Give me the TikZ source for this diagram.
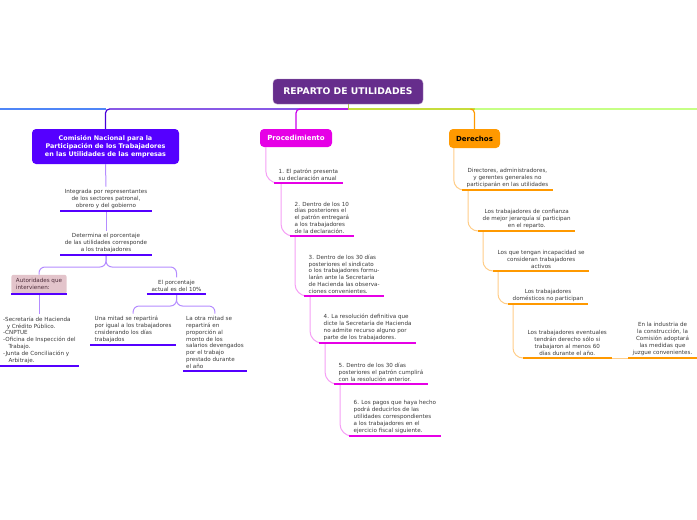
\documentclass[tikz,border=0pt]{standalone}
\usepackage{fontspec}
\setmainfont{DejaVu Sans}
\usepackage{tikz}
\usetikzlibrary{
  arrows.meta,
  positioning,
  calc,
}
\definecolor{rootpurple}{HTML}{662D8C}
\definecolor{comviolet}{HTML}{5500FF}
\definecolor{comlight}{HTML}{B48CFF}
\definecolor{westblue}{HTML}{4F86F7}
\definecolor{procmag}{HTML}{E600E6}
\definecolor{proclight}{HTML}{F5A0F5}
\definecolor{derorange}{HTML}{FF9900}
\definecolor{derlight}{HTML}{FFCD88}
\definecolor{hubolive}{HTML}{C6DD3C}
\definecolor{eastgreen}{HTML}{C5FF85}
\definecolor{autpink}{HTML}{E3C4CB}
\definecolor{autdark}{HTML}{4D2C3A}
\definecolor{leafgray}{HTML}{3A3A3A}

\tikzset{
  rootbox/.style={fill=rootpurple, draw=rootpurple!55, rounded corners=4pt,
    text=white, font=\bfseries\fontsize{9.2}{11}\selectfont,
    minimum width=150pt, minimum height=25pt},
  topic/.style={rounded corners=4pt, font=\bfseries\fontsize{7}{8}\selectfont},
  leaf/.style={font=\fontsize{5.6}{6.8}\selectfont, text=leafgray,
    inner xsep=4.5pt, inner ysep=2.5pt},
  cline/.style={comviolet, line width=2.5pt},
  pline/.style={procmag, line width=2.5pt},
  dline/.style={derorange, line width=2.5pt},
  cconn/.style={comlight, line width=1pt, rounded corners=6pt},
  pconn/.style={proclight, line width=1pt, rounded corners=12pt},
  dconn/.style={derlight, line width=1pt, rounded corners=10pt},
}

\begin{document}
\begin{tikzpicture}[x=1pt, y=-1pt]
  \useasboundingbox (0,0) rectangle (697,520);

  % root and main branches
  \node[rootbox] (root) at (348,91.5) {REPARTO DE UTILIDADES};
  \coordinate (hub) at (348,109);
  \coordinate (westend) at (0,109);
  \coordinate (eastend) at (697,109);

  \node[topic, fill=comviolet, text=white, align=center,
        minimum width=147pt, minimum height=35pt, font=\bfseries\fontsize{6.4}{8}\selectfont]
    (cnpt) at (105.5,146.5)
    {Comisión Nacional para la\\Participación de los Trabajadores\\en las Utilidades de las empresas};
  \node[topic, fill=procmag, text=white, minimum width=72pt, minimum height=18pt]
    (proc) at (296,138) {Procedimiento};
  \node[topic, fill=derorange, text=black, minimum width=51pt, minimum height=19pt]
    (der) at (474.5,138.5) {Derechos};

  \draw[westblue, line width=1.2pt] (cnpt.north |- hub) -- (westend);
  \draw[hubolive, line width=1.2pt] (der.north |- hub) -- (hub);
  \draw[eastgreen, line width=1.2pt] (der.north |- hub) -- (eastend);
  \draw[comviolet!85!black, line width=1.2pt, rounded corners=4pt] (hub) -| (cnpt.north);
  \draw[procmag!80!comviolet, line width=1.2pt, rounded corners=4pt] (hub) -| (proc.north);
  \draw[derorange, line width=1.2pt, rounded corners=4pt] ($(der.north |- hub)+(-4,0)$) -| (der.north);
  \draw[hubolive!70!gray, line width=1pt] (root.south) -- (hub);

  % Comision
  \node[leaf, align=center, anchor=south] (ci1) at (106,211)
    {Integrada por representantes\\de los sectores patronal,\\obrero y del gobierno};
  \node[leaf, align=center, anchor=south] (ci2) at (106,255)
    {Determina el porcentaje\\de las utilidades corresponde\\a los trabajadores};
  \node[leaf, align=left, anchor=south, fill=autpink, text=autdark, rounded corners=2pt,
        minimum width=54pt, minimum height=19pt] (caut) at (39,294)
    {Autoridades que\\intervienen:};
  \node[leaf, align=center, anchor=south] (cpct) at (176.5,294)
    {El porcentaje\\actual es del 10\%};
  \node[leaf, align=left, anchor=south west, inner xsep=3pt] (clist) at (0,366)
    {-Secretaría de Hacienda\\\ \ y Crédito Público.\\-CNPTUE\\-Oficina de Inspección del\\\ \ \ Trabajo.\\-Junta de Conciliación y\\\ \ \ Arbitraje.};
  \node[leaf, align=left, anchor=south west] (cmit1) at (90,345)
    {Una mitad se repartirá\\por igual a los trabajadores\\cnsiderando los días\\trabajados};
  \node[leaf, align=left, anchor=south west, inner xsep=3pt] (cmit2) at (183,371)
    {La otra mitad se\\repartirá en\\proporción al\\monto de los\\salarios devengados\\por el trabajo\\prestado durante\\el año};

  \draw[cconn] (cnpt.south) -- (ci1.north);
  \draw[cconn] (ci1.south) -- (ci2.north);
  \draw[cconn] (ci2.south) -- ++(0,12) -| (caut.north);
  \draw[cconn] (ci2.south) -- ++(0,12) -| (cpct.north);
  \draw[cconn] (caut.south) -- (caut.south |- clist.north);
  \draw[cconn] (cpct.south) -- ++(0,12) -| (cmit1.north);
  \draw[cconn] (cpct.south) -- ++(0,12) -| (cmit2.north);
  \foreach \n in {ci1,ci2,caut,cpct,clist,cmit1,cmit2}
    \draw[cline] (\n.south west) -- (\n.south east);

  % Procedimiento
  \node[leaf, align=left, anchor=south west] (p1) at (274,183)
    {1. El patrón presenta\\su declaración anual};
  \node[leaf, align=left, anchor=south west] (p2) at (290,236)
    {2. Dentro de los 10\\días posteriores el\\el patrón entregará\\a los trabajadores\\de la declaración.};
  \node[leaf, align=left, anchor=south west] (p3) at (304,296)
    {3. Dentro de los 30 días\\posteriores el sindicato\\o los trabajadores formu-\\larán ante la Secretaría\\de Hacienda las observa-\\ciones convenientes.};
  \node[leaf, align=left, anchor=south west] (p4) at (319,343)
    {4. La resolución definitiva que\\dicte la Secretaría de Hacienda\\no admite recurso alguno por\\parte de los trabajadores.};
  \node[leaf, align=left, anchor=south west] (p5) at (334,384)
    {5. Dentro de los 30 días\\posteriores el patrón cumplirá\\con la resolución anterior.};
  \node[leaf, align=left, anchor=south west] (p6) at (349,436)
    {6. Los pagos que haya hecho\\podrá deducirlos de las\\utilidades correspondientes\\a los trabajadores en el\\ejercicio fiscal siguiente.};

  \draw[pconn] ([xshift=6pt]proc.south west) |- (p1.south west);
  \draw[pconn] ([xshift=7pt]p1.south west) |- (p2.south west);
  \draw[pconn] ([xshift=5pt]p2.south west) |- (p3.south west);
  \draw[pconn] ([xshift=6pt]p3.south west) |- (p4.south west);
  \draw[pconn] ([xshift=6pt]p4.south west) |- (p5.south west);
  \draw[pconn] ([xshift=6pt]p5.south west) |- (p6.south west);
  \foreach \n in {p1,p2,p3,p4,p5,p6}
    \draw[pline] (\n.south west) -- (\n.south east);

  % Derechos
  \node[leaf, align=center, anchor=south west] (d1) at (462,190)
    {Directores, administradores,\\y gerentes generales no\\participarán en las utilidades};
  \node[leaf, align=center, anchor=south west] (d2) at (478,231)
    {Los trabajadores de confianza\\de mejor jerarquía sí participan\\en el reparto.};
  \node[leaf, align=center, anchor=south west] (d3) at (493,271)
    {Los que tengan incapacidad se\\consideran trabajadores\\activos};
  \node[leaf, align=center, anchor=south west] (d4) at (508,304)
    {Los trabajadores\\domésticos no participan};
  \node[leaf, align=center, anchor=south west] (d5) at (523,358)
    {Los trabajadores eventuales\\tendrán derecho sólo si\\trabajaron al menos 60\\días durante el año.};
  \node[leaf, align=center, anchor=south west] (d6) at (628,358)
    {En la industria de\\la construcción, la\\Comisión adoptará\\las medidas que\\juzgue convenientes.};

  \draw[dconn] ([xshift=5pt]der.south west) |- (d1.south west);
  \draw[dconn] ([xshift=6pt]d1.south west) |- (d2.south west);
  \draw[dconn] ([xshift=5pt]d2.south west) |- (d3.south west);
  \draw[dconn] ([xshift=5pt]d3.south west) |- (d4.south west);
  \draw[dconn] ([xshift=5pt]d4.south west) |- (d5.south west);
  \draw[dconn] (d5.south east) -- (d6.south west);
  \foreach \n in {d1,d2,d3,d4,d5,d6}
    \draw[dline] (\n.south west) -- (\n.south east);
\end{tikzpicture}
\end{document}
